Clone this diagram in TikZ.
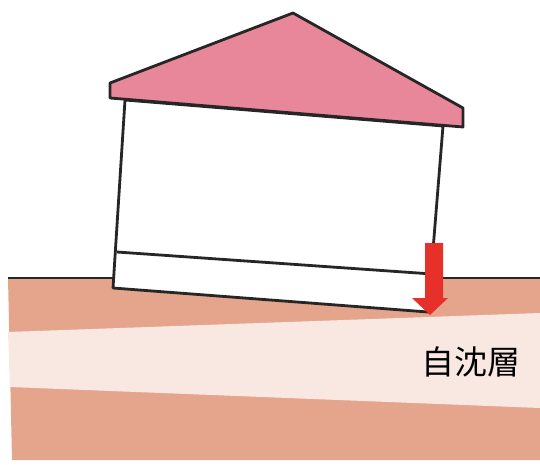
\documentclass[tikz,border=0pt]{standalone}
\usepackage{fontspec}
\newfontfamily\jpfont{Noto Sans CJK JP}
\usetikzlibrary{calc}
\definecolor{soil}{RGB}{229,165,141}
\definecolor{layer}{RGB}{249,232,226}
\definecolor{roof}{RGB}{232,134,154}
\definecolor{sink}{RGB}{232,48,42}

\begin{document}
\begin{tikzpicture}[x = 1pt, y = -1pt, line join = round, outline/.style = {draw = black!85, line width = 2.8pt}]
	\useasboundingbox (0, 0) rectangle (540, 465);
	% ground and the soft layer
	\fill[soil] (8, 278) -- (540, 278) -- (540, 460) -- (12, 460) -- cycle;
	\fill[layer] (8, 332) -- (540, 313) -- (540, 408) -- (10, 387) -- cycle;
	\draw[outline] (8, 278) -- (540, 278);
	% tilted house
	\draw[outline, fill = white] (125, 100) -- (443, 126) -- (428, 312) -- (113, 288) -- cycle;
	\draw[outline] (117, 252) -- (432, 274);
	\draw[outline, fill = roof] (110, 98) -- (110, 83) -- (293, 13) -- (463, 108) -- (463, 127) -- cycle;
	% settlement arrow
	\fill[sink] (425, 243) -- (443, 243) -- (443, 298) -- (448, 298) -- (430, 315) -- (412, 298) -- (425, 298) -- cycle;
	\node[font = \jpfont\fontsize{33}{40}\selectfont, anchor = center] (label) at (471, 362) {自沈層};
\end{tikzpicture}
\end{document}
